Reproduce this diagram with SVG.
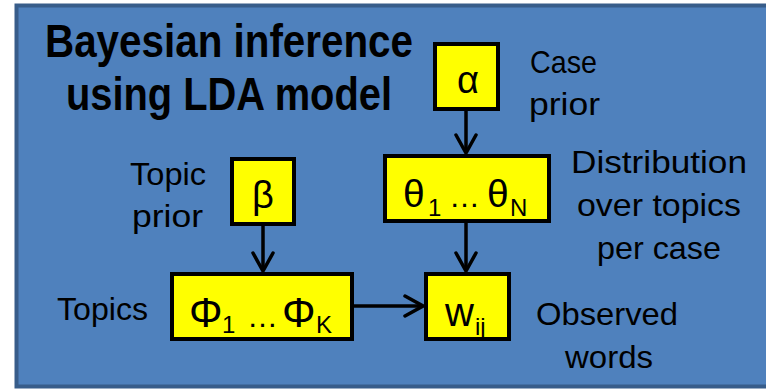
<svg xmlns="http://www.w3.org/2000/svg" width="766" height="389" viewBox="0 0 766 389">
<defs>
<marker id="arr" viewBox="0 0 22 24" refX="20" refY="12" markerWidth="22" markerHeight="24" markerUnits="userSpaceOnUse" orient="auto">
<path d="M2,2 L20,12 L2,22" fill="none" stroke="#000" stroke-width="3.5" stroke-linejoin="miter" stroke-linecap="round"/>
</marker>
</defs>
<style>
text{font-family:"Liberation Sans",Arial,sans-serif;fill:#000}
.lbl{font-size:32px}
.title{font-size:46px;font-weight:bold}
.box{fill:#ffff00;stroke:#000;stroke-width:4}
.sub{font-size:24px}
.conn{stroke:#000;stroke-width:3.5;fill:none}
</style>
<rect x="16.5" y="5.5" width="760" height="381" fill="#4f81bd" stroke="#385d8a" stroke-width="4"/>
<g id="title">
<text class="title" x="45" y="57" textLength="368" lengthAdjust="spacingAndGlyphs">Bayesian inference</text>
<text class="title" x="66" y="110" textLength="326" lengthAdjust="spacingAndGlyphs">using LDA model</text>
</g>
<g id="alpha">
<rect class="box" x="435" y="44" width="63" height="65"/>
<text x="468" y="93" font-size="38" text-anchor="middle">α</text>
</g>
<g id="case-prior">
<text class="lbl" x="530" y="73" textLength="67" lengthAdjust="spacingAndGlyphs">Case</text>
<text class="lbl" x="529" y="115" textLength="71" lengthAdjust="spacingAndGlyphs">prior</text>
</g>
<g id="theta">
<rect class="box" x="385" y="156" width="164" height="65"/>
<text y="207" font-size="39"><tspan x="403">θ</tspan><tspan class="sub" x="428" y="216">1</tspan><tspan x="449" y="207" font-size="31">…</tspan><tspan x="487">θ</tspan><tspan class="sub" x="510" y="216">N</tspan></text>
</g>
<g id="dist-label">
<text class="lbl" x="571" y="173" textLength="176" lengthAdjust="spacingAndGlyphs">Distribution</text>
<text class="lbl" x="577" y="216" textLength="164" lengthAdjust="spacingAndGlyphs">over topics</text>
<text class="lbl" x="597" y="259" textLength="124" lengthAdjust="spacingAndGlyphs">per case</text>
</g>
<g id="beta">
<rect class="box" x="232" y="159" width="62" height="65"/>
<text x="263" y="208" font-size="38" text-anchor="middle">β</text>
</g>
<g id="topic-prior">
<text class="lbl" x="130" y="185" textLength="76" lengthAdjust="spacingAndGlyphs">Topic</text>
<text class="lbl" x="132" y="227" textLength="71" lengthAdjust="spacingAndGlyphs">prior</text>
</g>
<g id="phi">
<rect class="box" x="172" y="274" width="180" height="65"/>
<text y="327" font-size="42"><tspan x="189">Φ</tspan><tspan class="sub" x="222" y="333">1</tspan><tspan x="247" y="327" font-size="31">…</tspan><tspan x="282">Φ</tspan><tspan class="sub" x="316" y="333">K</tspan></text>
</g>
<g id="topics-label">
<text class="lbl" x="57" y="320" textLength="91" lengthAdjust="spacingAndGlyphs">Topics</text>
</g>
<g id="w">
<rect class="box" x="426" y="274" width="83" height="65"/>
<text y="326" font-size="40"><tspan x="445">w</tspan><tspan class="sub" x="475" y="335">ij</tspan></text>
</g>
<g id="observed-label">
<text class="lbl" x="536" y="325" textLength="142" lengthAdjust="spacingAndGlyphs">Observed</text>
<text class="lbl" x="565" y="368" textLength="88" lengthAdjust="spacingAndGlyphs">words</text>
</g>
<g id="connectors">
<line class="conn" x1="466" y1="111" x2="466" y2="153" marker-end="url(#arr)"/>
<line class="conn" x1="263" y1="226" x2="263" y2="271" marker-end="url(#arr)"/>
<line class="conn" x1="466" y1="223" x2="466" y2="271" marker-end="url(#arr)"/>
<line class="conn" x1="354" y1="306" x2="423" y2="306" marker-end="url(#arr)"/>
</g>
</svg>
